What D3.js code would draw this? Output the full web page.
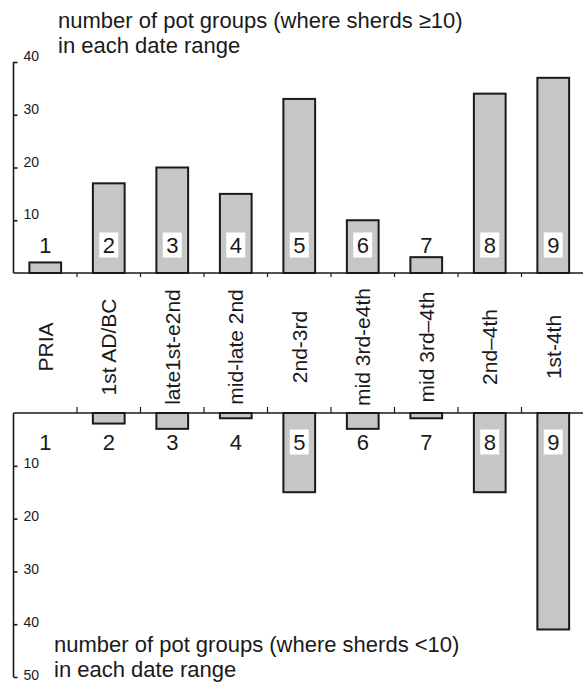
<!DOCTYPE html>
<html>
<head>
<meta charset="utf-8">
<script src="https://cdn.jsdelivr.net/npm/d3@7"></script>
<style>
  html, body { margin: 0; padding: 0; background: #fff; }
  svg { display: block; font-family: "Liberation Sans", Arial, sans-serif; }
  .tick text { font-size: 14px; font-family: "Liberation Sans", Arial, sans-serif; }
</style>
</head>
<body>
<svg id="chart" width="583" height="683"></svg>
<script>
// ---- data ----
const ids = ["1", "2", "3", "4", "5", "6", "7", "8", "9"];
const categories = ["PRIA", "1st AD/BC", "late1st-e2nd", "mid-late 2nd", "2nd-3rd", "mid 3rd-e4th", "mid 3rd\u20134th", "2nd\u20134th", "1st-4th"];
const groupsSherdsGE10 = [2, 17, 20, 15, 33, 10, 3, 34, 37];
const groupsSherdsLT10 = [0, 2, 3, 1, 15, 3, 1, 15, 41];
const topTicks = [10, 20, 30, 40];
const bottomTicks = [10, 20, 30, 40, 50];
const topTitle = ["number of pot groups (where sherds \u226510)", "in each date range"];
const bottomTitle = ["number of pot groups (where sherds <10)", "in each date range"];

// ---- layout ----
const svg = d3.select("#chart");
const W = 583;
const axisX = 13.5;
const x = d3.scaleBand().domain(ids).range([axisX, 585]).paddingInner(0.5).paddingOuter(0.25);
const yTop = d3.scaleLinear().domain([0, 40]).range([273, 62]);
const yBot = d3.scaleLinear().domain([0, 50]).range([413, 677]);

const barFill = "#c6c6c6";
const ink = "#1a1a1a";

// ---- top chart ----
const gTop = svg.append("g");
gTop.selectAll("rect.bar").data(groupsSherdsGE10).join("rect")
  .attr("class", "bar")
  .attr("x", (d, i) => x(ids[i]))
  .attr("width", x.bandwidth())
  .attr("y", d => yTop(d))
  .attr("height", d => yTop(0) - yTop(d))
  .attr("fill", barFill).attr("stroke", ink).attr("stroke-width", 2);

gTop.append("line").attr("x1", axisX).attr("x2", W).attr("y1", yTop(0)).attr("y2", yTop(0))
  .attr("stroke", ink).attr("stroke-width", 1.6);
gTop.selectAll("line.sep").data(ids.slice(1)).join("line")
  .attr("class", "sep")
  .attr("x1", d => x(d) - x.step() * 0.25).attr("x2", d => x(d) - x.step() * 0.25)
  .attr("y1", yTop(0)).attr("y2", yTop(0) + 4)
  .attr("stroke", ink).attr("stroke-width", 1.2);

const topAxis = d3.axisRight(yTop).tickValues(topTicks).tickSize(4).tickPadding(6);
const gTopAxis = gTop.append("g").attr("transform", `translate(${axisX},0)`).call(topAxis);
gTopAxis.select(".domain").attr("d", `M0,${yTop(0)}V${yTop(40)}`).attr("stroke", ink).attr("stroke-width", 1.6);
gTopAxis.selectAll(".tick line").attr("stroke", ink).attr("stroke-width", 1.6);
gTopAxis.selectAll(".tick text").attr("fill", ink).attr("dy", "-0.1em");

const numY = 245;
const boxW = 19, boxH = 25;
groupsSherdsGE10.forEach((v, i) => {
  const cx = x(ids[i]) + x.bandwidth() / 2;
  if (yTop(v) < numY - boxH / 2 - 2) {
    gTop.append("rect").attr("x", cx - boxW / 2).attr("y", numY - boxH / 2)
      .attr("width", boxW).attr("height", boxH).attr("fill", "#fff");
  }
  gTop.append("text").attr("x", cx).attr("y", numY).attr("dy", "0.36em")
    .attr("text-anchor", "middle").attr("font-size", 22).attr("fill", ink).text(ids[i]);
});

gTop.append("text").attr("x", 58).attr("y", 28).attr("font-size", 22).attr("fill", ink)
  .selectAll("tspan").data(topTitle).join("tspan")
  .attr("x", 58).attr("dy", (d, i) => i === 0 ? 0 : 25).text(d => d);

// ---- category labels (rotated) ----
svg.append("g").selectAll("text").data(categories).join("text")
  .attr("transform", (d, i) => `translate(${x(ids[i]) + x.bandwidth() / 2},347) rotate(-90)`)
  .attr("text-anchor", "middle").attr("dy", "0.36em")
  .attr("font-size", 21).attr("fill", ink).text(d => d);

// ---- bottom chart ----
const gBot = svg.append("g");
gBot.selectAll("rect.bar").data(groupsSherdsLT10).join("rect")
  .attr("class", "bar")
  .attr("x", (d, i) => x(ids[i]))
  .attr("width", x.bandwidth())
  .attr("y", yBot(0))
  .attr("height", d => yBot(d) - yBot(0))
  .attr("fill", barFill).attr("stroke", ink).attr("stroke-width", 2)
  .attr("display", d => d > 0 ? null : "none");

gBot.append("line").attr("x1", axisX).attr("x2", W).attr("y1", yBot(0)).attr("y2", yBot(0))
  .attr("stroke", ink).attr("stroke-width", 1.6);
gBot.selectAll("line.sep").data(ids.slice(1)).join("line")
  .attr("class", "sep")
  .attr("x1", d => x(d) - x.step() * 0.25).attr("x2", d => x(d) - x.step() * 0.25)
  .attr("y1", yBot(0)).attr("y2", yBot(0) - 6)
  .attr("stroke", ink).attr("stroke-width", 1.2);

const botAxis = d3.axisRight(yBot).tickValues(bottomTicks).tickSize(4).tickPadding(6);
const gBotAxis = gBot.append("g").attr("transform", `translate(${axisX},0)`).call(botAxis);
gBotAxis.select(".domain").attr("d", `M0,${yBot(0)}V${yBot(50)}`).attr("stroke", ink).attr("stroke-width", 1.6);
gBotAxis.selectAll(".tick line").attr("stroke", ink).attr("stroke-width", 1.6);
gBotAxis.selectAll(".tick text").attr("fill", ink).attr("dy", "0.15em");

const numY2 = 442;
groupsSherdsLT10.forEach((v, i) => {
  const cx = x(ids[i]) + x.bandwidth() / 2;
  if (yBot(v) > numY2 + boxH / 2 + 2) {
    gBot.append("rect").attr("x", cx - boxW / 2).attr("y", numY2 - boxH / 2)
      .attr("width", boxW).attr("height", boxH).attr("fill", "#fff");
  }
  gBot.append("text").attr("x", cx).attr("y", numY2).attr("dy", "0.36em")
    .attr("text-anchor", "middle").attr("font-size", 22).attr("fill", ink).text(ids[i]);
});

gBot.append("text").attr("x", 54).attr("y", 652).attr("font-size", 22).attr("fill", ink)
  .selectAll("tspan").data(bottomTitle).join("tspan")
  .attr("x", 54).attr("dy", (d, i) => i === 0 ? 0 : 25).text(d => d);
</script>
</body>
</html>
